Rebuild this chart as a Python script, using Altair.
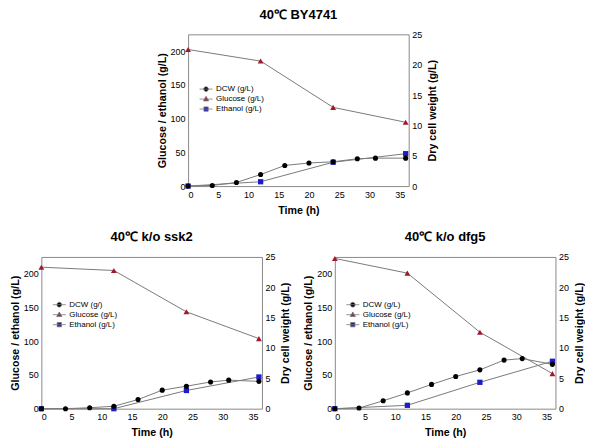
import altair as alt
import pandas as pd

# ---------------- data ----------------
time_dcw = [0, 4, 8, 12, 16, 20, 24, 28, 31, 36]
time_ge = [0, 12, 24, 36]

by4741_dcw = [0, 0.1, 0.6, 1.9, 3.4, 3.8, 4.0, 4.5, 4.6, 4.6]
by4741_glucose = [202.5, 185.3, 116.7, 94.6]
by4741_ethanol = [0, 6.4, 35.3, 48.0]

ssk2_dcw = [0, 0, 0.16, 0.4, 1.5, 3.05, 3.7, 4.4, 4.7, 4.5]
ssk2_glucose = [209.8, 204.9, 143.6, 103.9]
ssk2_ethanol = [0, 0, 27.0, 47.0]

dfg5_dcw = [0, 0.1, 1.3, 2.6, 4.0, 5.3, 6.4, 8.0, 8.25, 7.3]
dfg5_glucose = [222.8, 201.0, 113.4, 52.0]
dfg5_ethanol = [0, 5.0, 39.1, 70.3]

labels_by4741 = ["DCW (g/L)", "Glucose (g/L)", "Ethanol (g/L)"]
labels_ssk2 = ["DCW (g/)", "Glucose (g/L)", "Ethanol (g/L)"]
labels_dfg5 = ["DCW (g/L)", "Glucose (g/L)", "Ethanol (g/L)"]

titles = ["40\u2103 BY4741", "40\u2103 k/o ssk2", "40\u2103 k/o dfg5"]

x_ticks = [0, 5, 10, 15, 20, 25, 30, 35]
left_ticks = [0, 50, 100, 150, 200]
right_ticks = [0, 5, 10, 15, 20, 25]

# ---------------- style ----------------
FONT = "Liberation Sans"
LINE = "#7a7a7a"
COLORS = ["#000000", "#a3162c", "#1c1cc8"]
LEGEND_SHAPES = [
    "M-1,0H1M0.36,0A0.36,0.36,0,1,1,-0.36,0A0.36,0.36,0,1,1,0.36,0Z",
    "M-1,0H1M0,-0.42L0.4,0.28L-0.4,0.28Z",
    "M-1,0H1M-0.33,-0.33H0.33V0.33H-0.33Z",
]
W, H = 221, 152


def panel(title, dcw, glc, eth, labels, legend_y, title_offset):
    left_df = pd.DataFrame({
        "time": time_ge + time_ge,
        "value": glc + eth,
        "series": ["Glucose"] * len(time_ge) + ["Ethanol"] * len(time_ge),
    })
    glc_df = pd.DataFrame({"time": time_ge, "value": glc})
    eth_df = pd.DataFrame({"time": time_ge, "value": eth})
    dcw_df = pd.DataFrame({"time": time_dcw, "value": dcw})
    key_df = pd.DataFrame({"time": [-10] * 3, "value": [0] * 3, "label": labels})

    x = alt.X("time:Q", scale=alt.Scale(domain=[0, 36.5], nice=False, zero=False),
              axis=alt.Axis(values=x_ticks, title="Time (h)", labelPadding=4, titlePadding=6))
    yl = alt.Y("value:Q", scale=alt.Scale(domain=[0, 225], nice=False),
               axis=alt.Axis(values=left_ticks, title="Glucose / ethanol (g/L)", orient="left",
                             titlePadding=3, labelPadding=3))
    yr = alt.Y("value:Q", scale=alt.Scale(domain=[0, 25], nice=False),
               axis=alt.Axis(values=right_ticks, title="Dry cell weight (g/L)", orient="right",
                             titleAngle=270, titleBaseline="top", titlePadding=6, labelPadding=3))

    leg = alt.Legend(orient="none", legendX=11, legendY=legend_y, title=None,
                     symbolSize=170, symbolStrokeWidth=0.8,
                     labelFont=FONT, labelFontSize=8, labelColor="#000", labelOffset=3,
                     clipHeight=9.7, rowPadding=0, padding=0)

    dcw_line = alt.Chart(dcw_df).mark_line(color=LINE, strokeWidth=1).encode(x=x, y=yr)
    dcw_pts = alt.Chart(dcw_df).mark_point(filled=True, shape="circle", color=COLORS[0],
                                           size=26, opacity=1).encode(x=x, y=yr)
    key = alt.Chart(key_df).mark_point(filled=True, clip=True, size=170,
                                       strokeWidth=0.8, opacity=1).encode(
        x=x, y=yr,
        shape=alt.Shape("label:N", scale=alt.Scale(domain=labels, range=LEGEND_SHAPES), legend=leg),
        fill=alt.Fill("label:N", scale=alt.Scale(domain=labels, range=COLORS), legend=leg),
        stroke=alt.Stroke("label:N", scale=alt.Scale(domain=labels, range=[LINE, LINE, LINE]),
                          legend=leg),
    )
    right = alt.layer(dcw_line, dcw_pts, key)

    left_lines = alt.Chart(left_df).mark_line(color=LINE, strokeWidth=1).encode(
        x=x, y=yl, detail="series:N")
    glc_pts = alt.Chart(glc_df).mark_point(filled=True, shape="triangle-up", color=COLORS[1],
                                           size=34, opacity=1).encode(x=x, y=yl)
    eth_pts = alt.Chart(eth_df).mark_point(filled=True, shape="square", color=COLORS[2],
                                           size=28, opacity=1).encode(x=x, y=yl)
    left = alt.layer(left_lines, glc_pts, eth_pts)

    return alt.layer(left, right).resolve_scale(y="independent").properties(
        width=W, height=H,
        title=alt.TitleParams(title, fontSize=13, fontWeight="bold", font=FONT, color="#000",
                              anchor="middle", frame="group", offset=title_offset),
    )


p1 = panel(titles[0], by4741_dcw, by4741_glucose, by4741_ethanol, labels_by4741, 50, 8)
p2 = panel(titles[1], ssk2_dcw, ssk2_glucose, ssk2_ethanol, labels_ssk2, 43, 9)
p3 = panel(titles[2], dfg5_dcw, dfg5_glucose, dfg5_ethanol, labels_dfg5, 43, 9)

bottom = alt.hconcat(p2, p3, spacing=10).resolve_scale(
    shape="independent", fill="independent", stroke="independent").resolve_legend(
    shape="independent", fill="independent", stroke="independent")

chart = alt.vconcat(p1, bottom, spacing=14, center=True).resolve_scale(
    shape="independent", fill="independent", stroke="independent").resolve_legend(
    shape="independent", fill="independent", stroke="independent").properties(
    padding=0, background="white"
).configure_view(stroke="#8a8a8a", strokeWidth=1).configure_axis(
    labelFont=FONT, labelFontSize=9, labelColor="#000",
    titleFont=FONT, titleFontSize=10.7, titleFontWeight="bold", titleColor="#000",
    domain=False, ticks=False, grid=False,
)

chart.save("out.html", embed_options={"renderer": "svg", "actions": False})
